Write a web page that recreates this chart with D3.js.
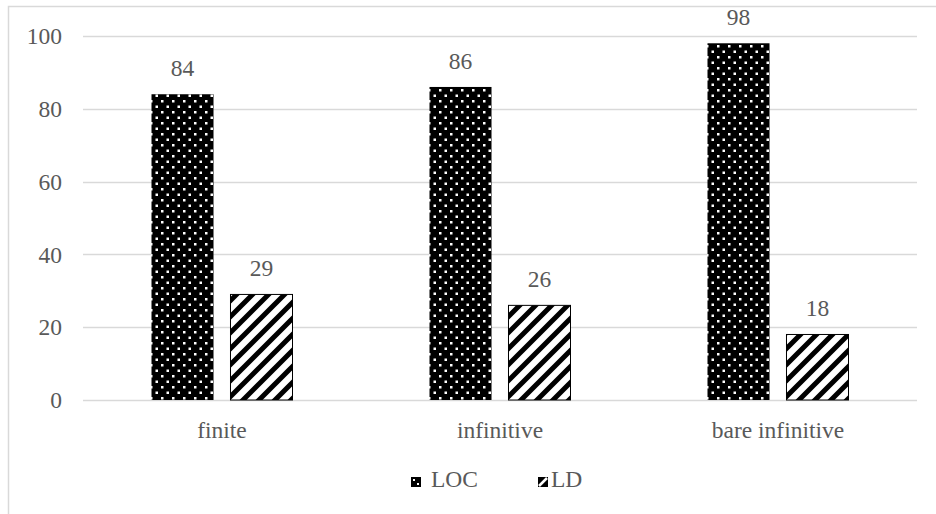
<!DOCTYPE html>
<html><head><meta charset="utf-8">
<script src="https://cdn.jsdelivr.net/npm/d3@7"></script>
<style>body{margin:0;background:#fff}svg{display:block}text{font-family:"Liberation Serif","Times New Roman",serif;fill:#595959}</style>
</head><body>
<script>
const categories = ["finite", "infinitive", "bare infinitive"];
const seriesNames = ["LOC", "LD"];
const locValues = [84, 86, 98];
const ldValues = [29, 26, 18];
const yTicks = [0, 20, 40, 60, 80, 100];

const W = 936, H = 514, FS = 23.5;
const svg = d3.select("body").append("svg").attr("width", W).attr("height", H);
const defs = svg.append("defs");

// dotted pattern
const pd = defs.append("pattern").attr("id", "pDots").attr("patternUnits", "userSpaceOnUse")
  .attr("width", 11).attr("height", 11).attr("x", 0).attr("y", 0);
pd.append("rect").attr("width", 11).attr("height", 11).attr("fill", "#000");
pd.append("rect").attr("x", 1).attr("y", 1).attr("width", 2.5).attr("height", 2.5).attr("fill", "#fff");
pd.append("rect").attr("x", 6.5).attr("y", 6.5).attr("width", 2.5).attr("height", 2.5).attr("fill", "#fff");

// diagonal stripes
const ps = defs.append("pattern").attr("id", "pStripes").attr("patternUnits", "userSpaceOnUse")
  .attr("width", 16).attr("height", 16);
ps.append("rect").attr("width", 16).attr("height", 16).attr("fill", "#fff");
ps.append("path").attr("d", "M-4,4 L4,-4 M0,16 L16,0 M12,20 L20,12")
  .attr("stroke", "#000").attr("stroke-width", 5);

// small legend patterns
const pdl = defs.append("pattern").attr("id", "pDotsL").attr("patternUnits", "userSpaceOnUse")
  .attr("width", 10).attr("height", 10);
pdl.append("rect").attr("width", 10).attr("height", 10).attr("fill", "#000");
pdl.append("rect").attr("x", 2).attr("y", 2).attr("width", 2).attr("height", 2).attr("fill", "#fff");
pdl.append("rect").attr("x", 6).attr("y", 6).attr("width", 2).attr("height", 2).attr("fill", "#fff");
const psl = defs.append("pattern").attr("id", "pStripesL").attr("patternUnits", "userSpaceOnUse")
  .attr("width", 10).attr("height", 10);
psl.append("rect").attr("width", 10).attr("height", 10).attr("fill", "#000");
psl.append("path").attr("d", "M1,9 L9,1").attr("stroke", "#fff").attr("stroke-width", 2.5);

const fills = { LOC: "url(#pDots)", LD: "url(#pStripes)" };
const legendFills = { LOC: "url(#pDotsL)", LD: "url(#pStripesL)" };

// frame
svg.append("rect").attr("x", 8.5).attr("y", 6.5).attr("width", 940).attr("height", 530)
  .attr("fill", "none").attr("stroke", "#d9d9d9").attr("stroke-width", 1.5);

const x0 = d3.scaleBand().domain(categories).range([83, 917]).padding(0);
const bw = x0.bandwidth();
const x1 = d3.scaleBand().domain(seriesNames).range([bw * 0.2464, bw * 0.7536]).paddingInner(0.215).paddingOuter(0);
const y = d3.scaleLinear().domain([0, 100]).range([400, 36]);

// gridlines
svg.append("g").selectAll("line").data(yTicks).join("line")
  .attr("x1", 83).attr("x2", 917)
  .attr("y1", d => Math.round(y(d)) + 0.5).attr("y2", d => Math.round(y(d)) + 0.5)
  .attr("stroke", "#d9d9d9").attr("stroke-width", 1.3);

// y axis labels
const yAxis = d3.axisLeft(y).tickValues(yTicks).tickSize(0).tickPadding(0);
const ga = svg.append("g").attr("transform", "translate(62,0)").call(yAxis);
ga.select(".domain").remove();
ga.selectAll("text").attr("font-size", FS).attr("fill", "#595959").attr("dy", "0.33em")
  .attr("font-family", "Liberation Serif, Times New Roman, serif");

// bars
const data = categories.map((c, i) => ({ cat: c, vals: [{ s: "LOC", v: locValues[i] }, { s: "LD", v: ldValues[i] }] }));
const groups = svg.append("g").selectAll("g").data(data).join("g")
  .attr("transform", d => `translate(${x0(d.cat)},0)`);
groups.selectAll("rect").data(d => d.vals).join("rect")
  .attr("x", d => x1(d.s)).attr("y", d => y(d.v))
  .attr("width", x1.bandwidth()).attr("height", d => y(0) - y(d.v))
  .attr("fill", d => fills[d.s]).attr("stroke", d => d.s === "LD" ? "#000" : "none").attr("stroke-width", 1);
groups.selectAll("text").data(d => d.vals).join("text")
  .attr("x", d => x1(d.s) + x1.bandwidth() / 2).attr("y", d => y(d.v) - 18)
  .attr("text-anchor", "middle").attr("font-size", FS).text(d => d.v);

// x axis labels
const xAxis = d3.axisBottom(x0).tickSize(0).tickPadding(0);
const gx = svg.append("g").attr("transform", "translate(0,438)").call(xAxis);
gx.select(".domain").remove();
gx.selectAll("text").attr("font-size", FS).attr("fill", "#595959").attr("dy", 0)
  .attr("font-family", "Liberation Serif, Times New Roman, serif");

// legend
const legendX = { LOC: 411, LD: 538 };
const legendTextDx = { LOC: 20, LD: 13 };
const lg = svg.append("g").selectAll("g").data(seriesNames).join("g")
  .attr("transform", d => `translate(${legendX[d]},477)`);
lg.append("rect").attr("width", 10).attr("height", 10).attr("fill", d => legendFills[d]);
lg.append("text").attr("x", d => legendTextDx[d]).attr("y", 10).attr("font-size", FS).text(d => d);
</script>
</body></html>
